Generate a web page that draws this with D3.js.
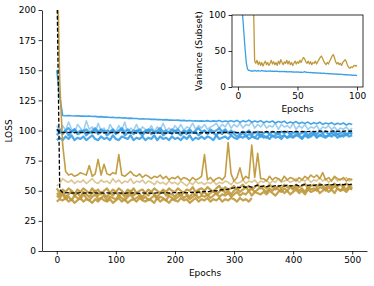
<!DOCTYPE html>
<html>
<head>
<meta charset="utf-8">
<script src="https://cdn.jsdelivr.net/npm/d3@7"></script>
<style>
body { margin: 0; background: #fff; }
svg { display: block; font-family: "DejaVu Sans", sans-serif; }
</style>
</head>
<body>
<svg id="chart" width="374" height="286"></svg>
<script>
// one value every 5 epochs, epoch 0..500
const step = 5;

const blueRun1 = [
  150,128,112.5,112.3,112.5,112.2,112,112.2,111.9,112,
  111.8,112,111.6,111.7,111.3,111.5,111.1,111.2,110.8,111,
  110.6,110.8,110.4,110.5,110.1,110.3,109.9,110,109.6,109.8,
  109.5,109.6,109.2,109.4,109,109.1,108.8,109,108.6,108.7,
  108.5,108.6,108.2,108.4,108,108.3,107.9,108.1,107.8,108,
  107.7,108.2,107.4,108,107.6,108.3,107.3,107.9,107.5,108.1,
  107.2,108.4,106.8,108,107.2,108.6,106.9,107.8,107,108.2,
  106.5,107.6,106.8,107.9,106.2,107.4,106.6,107.8,105.9,107.1,
  106.3,107.4,105.6,106.8,105.9,107,105.3,106.5,105.6,106.9,
  105,106.2,105.4,106.5,104.8,106,105.1,106.2,104.6,105.8,
  104.9
];
const blueRun2 = [
  104,99,104,100,107,101,98,105,102,99,
  108,101,103,98,106,100,102,97,105,101,
  99,104,100,107,98,102,100,105,99,103,
  101,100,104,99,103,101,106,100,102,99,
  104,101,105,100,103,102,106,101,104,102,
  105,101,103,104,106,102,105,103,107,102,
  105,103,106,102,105,104,107,102,105,103,
  106,102,104,103,106,101,105,103,104,102,
  106,101,104,102,105,101,103,102,104,100,
  103,102,104,101,103,100,102,101,103,100,
  102
];
const blueRun3 = [
  96,99,97,100,96,99,101,97,98,100,
  96,99,98,101,97,99,100,96,98,100,
  97,99,101,96,98,99,97,100,98,96,
  99,101,97,99,98,100,96,98,99,97,
  100,98,96,99,97,100,98,99,96,98,
  100,97,99,98,96,99,97,100,98,97,
  99,98,97,99,98,100,97,98,99,96,
  98,99,97,99,98,97,99,98,99,97,
  98,99,97,98,99,96,98,99,97,99,
  98,99,97,98,99,97,98,99,97,98,
  98
];
const blueRun4 = [
  92,94,92,95,93,96,92,94,93,95,
  92,94,96,93,92,95,93,94,92,96,
  93,92,95,94,93,96,92,94,93,95,
  92,94,93,96,92,95,93,94,92,95,
  93,94,92,95,93,96,92,94,93,95,
  93,95,94,92,96,93,94,95,93,96,
  94,93,95,94,96,93,95,94,93,96,
  94,95,93,96,94,95,93,96,94,95,
  94,96,95,93,96,94,95,97,94,96,
  95,94,96,95,97,94,96,95,97,95,
  96
];
const blueRun5 = [
  99,101,98,100,102,99,101,98,100,99,
  101,98,100,102,99,101,98,100,99,101,
  98,100,102,99,101,98,100,99,101,98,
  100,99,101,98,100,102,99,100,98,101,
  99,101,98,100,99,101,98,100,102,99,
  100,98,101,99,100,102,99,101,98,100,
  97,95,96,98,95,97,96,94,97,95,
  96,94,97,95,96,98,95,96,94,97,
  95,97,96,94,97,95,96,98,95,96,
  97,95,96,98,96,97,95,97,96,98,
  97
];
const blueMean = [
  101,98.5,98.3,98.5,98.4,98.6,98.3,98.5,98.4,98.2,
  98.4,98.3,98.5,98.2,98.4,98.3,98.1,98.3,98.2,98.4,
  98.1,98.3,98.2,98,98.2,98.1,98.3,97.9,98.1,98,
  98.2,97.9,98.1,97.8,98,97.9,98.1,97.8,98,97.9,
  97.8,98,97.9,98.1,97.8,98,98.1,97.9,98.2,98,
  98.1,98.3,98,98.2,98.4,98.1,98.3,98.5,98.2,98.4,
  98.6,98.3,98.5,98.7,98.4,98.8,98.5,98.7,98.9,98.6,
  98.8,99,98.7,98.9,99.1,98.8,99,99.2,98.9,99.1,
  99,99.2,98.9,99.3,99.1,99,99.4,99.1,99.3,99.6,
  99.2,99.5,99.1,99.4,99.6,99.2,99.5,99.3,99.7,99.4,
  99.6
];

const goldRun1 = [
  260,140,88,66,63,64,62,63,65,64,
  63,71,62,64,76,63,72,64,63,65,
  64,80,63,62,64,66,63,62,64,61,
  63,62,60,62,61,63,60,62,59,61,
  60,62,59,61,60,58,61,59,60,62,
  80,59,61,58,60,61,59,62,90,64,
  58,61,69,59,62,60,88,61,81,60,
  60,58,62,59,61,60,58,62,59,61,
  60,58,61,59,62,60,63,61,63,60,
  65,59,61,58,62,60,59,61,58,60,
  59
];
const goldRun2 = [
  54,56,60,58,57,59,56,58,57,59,
  56,58,60,57,56,59,57,58,56,60,
  57,59,56,58,57,60,56,58,57,59,
  56,58,57,55,58,56,57,55,58,56,
  57,55,58,56,54,57,55,58,56,57,
  55,57,56,58,55,57,56,58,57,55,
  58,56,57,59,56,58,57,59,56,58,
  57,59,56,58,57,60,57,58,59,57,
  58,60,57,59,58,60,57,59,58,61,
  58,60,57,59,61,58,60,59,61,58,
  60
];
const goldRun3 = [
  52,48,51,49,52,50,47,51,49,52,
  50,48,52,49,51,47,50,52,48,51,
  49,52,50,47,51,49,52,48,50,51,
  48,51,49,52,50,48,51,49,52,50,
  49,52,50,48,51,50,53,49,51,52,
  50,53,51,49,52,54,50,53,51,52,
  54,51,53,55,52,54,51,53,55,52,
  54,52,55,53,51,54,52,55,53,54,
  52,55,53,54,56,52,54,55,53,56,
  54,52,55,53,56,54,55,53,56,54,
  55
];
const goldRun4 = [
  46,44,47,43,45,42,46,44,43,47,
  44,42,45,47,43,44,46,42,45,44,
  43,46,44,42,45,47,43,44,46,43,
  45,42,44,46,43,45,44,42,46,44,
  43,45,47,44,46,43,45,47,44,46,
  45,47,44,46,48,45,47,46,48,45,
  47,49,46,48,47,50,46,49,48,47,
  49,47,50,48,46,49,51,48,50,47,
  49,51,48,50,47,51,49,50,52,48,
  50,52,49,51,48,52,50,51,49,52,
  51
];
// this run stops at epoch 330
const goldRun5 = [
  41,43,42,44,41,43,40,42,44,41,
  43,42,40,43,41,44,42,41,43,40,
  42,44,41,43,40,42,43,41,44,42,
  41,43,42,40,44,41,43,42,40,43,
  42,41,44,42,43,40,42,44,41,43,
  42,44,41,43,42,44,41,43,42,44,
  43,41,44,42,43,41,44
];
const goldRun6 = [
  48,46,49,45,47,50,46,48,45,49,
  47,45,48,50,46,49,47,45,48,46,
  49,46,48,45,47,50,46,48,47,45,
  48,46,49,47,45,48,50,46,48,47,
  45,48,46,49,47,45,48,46,50,47,
  49,46,48,50,47,49,52,48,50,47,
  50,52,49,51,53,50,52,49,51,53,
  51,49,52,50,53,51,49,52,50,53,
  51,53,50,52,49,53,51,52,50,53,
  52,50,53,51,54,52,50,53,51,54,
  52
];
const goldMean = [
  230,51,48.5,48.2,48.4,48,48.3,48.1,48.4,48,
  48.2,48.4,48,48.3,48.1,48.2,48,48.3,48.1,48.2,
  48,48.3,48.1,47.9,48.2,48,48.3,48.1,47.9,48.2,
  48,48.2,47.9,48.1,48.3,48,48.2,48.4,48.1,48.3,
  48.5,48.2,48.4,48.7,48.3,48.6,48.9,48.5,48.8,49.1,
  49.4,49,49.6,50.2,49.8,50.5,51,50.6,51.4,52,
  52.4,53,52.6,53.4,52.9,53.6,53.1,53.8,54.6,53.7,
  53.9,53.4,54.1,53.6,54.3,53.8,54.5,53.9,54.6,54.1,
  54.3,54.8,54.1,54.6,55,54.4,54.9,54.3,55.1,54.6,
  55.2,54.7,55.3,54.9,55.5,54.8,55.4,55,55.6,55.1,
  55.5
];

// inset: one value per epoch, 0..100
const insetBlue = [
  180,160,140,118,98,75,52,34,25,23,
  23,22,22.5,22,23,22.5,22,22.8,22.3,22,
  23,22.5,22,22.4,21.8,22.2,21.9,22.3,21.7,22,
  21.8,22.2,21.6,21.9,21.5,21.8,21.4,21.7,21.3,21.6,
  21.2,21.5,21,21.4,20.9,21.2,20.8,21.1,20.7,21,
  20.6,20.9,20.4,20.8,20.3,20.6,21.4,20.5,20.2,20.4,
  20,20.3,19.8,20.1,19.6,19.9,19.4,19.7,19.2,19.5,
  19,19.3,18.8,19.1,18.6,18.9,18.4,18.7,18.2,18.5,
  18,18.3,17.8,18.1,17.6,17.9,17.4,17.7,17.2,17.5,
  17,17.2,16.7,17,16.4,16.7,16.2,16.5,16,16.3,
  15.9
];
const insetGold = [
  250,250,250,250,250,250,250,250,250,250,
  250,250,250,120,36,33,37,31,35,30,
  34,29,33,36,31,34,30,33,37,32,
  35,31,34,30,36,32,38,34,31,35,
  33,37,32,36,31,34,30,33,36,32,
  35,33,37,34,38,41,39,35,33,36,
  32,35,31,34,33,36,32,35,38,41,
  43,40,36,33,31,34,32,36,39,43,
  45,41,35,32,34,31,33,30,34,36,
  38,35,30,27,26,28,27,29,30,29,
  30
];

const xTicks = [0, 100, 200, 300, 400, 500];
const yTicks = [0, 25, 50, 75, 100, 125, 150, 175, 200];
const insetTicks = [0, 50, 100];

const blue = '#3b9fe4';
const gold = '#bf983a';

const svg = d3.select('#chart');

// ---- main axes
const x = d3.scaleLinear().domain([-25, 525]).range([42, 367]);
const y = d3.scaleLinear().domain([0, 200]).range([251, 10]);

svg.append('clipPath').attr('id', 'clipMain')
    .append('rect')
    .attr('x', 42).attr('y', 10)
    .attr('width', 325).attr('height', 241);

const mainLine = d3.line()
    .x((d, i) => x(i * step))
    .y(d => y(d));

const plot = svg.append('g').attr('clip-path', 'url(#clipMain)');

function drawRun(g, data, color, width, opacity, gen) {
    g.append('path')
        .datum(data)
        .attr('fill', 'none')
        .attr('stroke', color)
        .attr('stroke-width', width)
        .attr('stroke-opacity', opacity)
        .attr('stroke-linejoin', 'round')
        .attr('d', gen);
}

drawRun(plot, blueRun4, blue, 2.2, 0.9, mainLine);
drawRun(plot, blueRun3, blue, 2.2, 0.9, mainLine);
drawRun(plot, blueRun5, blue, 2.2, 0.85, mainLine);
drawRun(plot, blueRun2, blue, 1.6, 0.5, mainLine);
drawRun(plot, blueRun1, blue, 1.6, 0.95, mainLine);

drawRun(plot, goldRun5, gold, 2.2, 0.9, mainLine);
drawRun(plot, goldRun4, gold, 2.2, 0.9, mainLine);
drawRun(plot, goldRun6, gold, 2.2, 0.9, mainLine);
drawRun(plot, goldRun3, gold, 2.2, 0.9, mainLine);
drawRun(plot, goldRun2, gold, 1.6, 0.55, mainLine);
drawRun(plot, goldRun1, gold, 1.6, 0.95, mainLine);

[blueMean, goldMean].forEach(m => {
    plot.append('path')
        .datum(m)
        .attr('fill', 'none')
        .attr('stroke', '#000')
        .attr('stroke-width', 1.3)
        .attr('stroke-dasharray', '4,2')
        .attr('d', mainLine);
});

const xAxis = svg.append('g')
    .attr('transform', 'translate(0,251)')
    .call(d3.axisBottom(x).tickValues(xTicks).tickSize(3.5).tickSizeOuter(0).tickPadding(2.5));
const yAxis = svg.append('g')
    .attr('transform', 'translate(42,0)')
    .call(d3.axisLeft(y).tickValues(yTicks).tickSize(3.5).tickSizeOuter(0).tickPadding(2.5));

[xAxis, yAxis].forEach(a => {
    a.attr('font-family', '"DejaVu Sans", sans-serif').attr('font-size', 9);
    a.select('.domain').attr('stroke', '#000').attr('stroke-width', 0.8);
    a.selectAll('.tick line').attr('stroke', '#000').attr('stroke-width', 0.8);
    a.selectAll('.tick text').attr('fill', '#000');
});

svg.append('text')
    .attr('x', 205).attr('y', 276)
    .attr('text-anchor', 'middle')
    .attr('font-size', 9)
    .text('Epochs');
svg.append('text')
    .attr('transform', 'translate(12,131) rotate(-90)')
    .attr('text-anchor', 'middle')
    .attr('font-size', 9)
    .text('LOSS');

// ---- inset
const xi = d3.scaleLinear().domain([-5, 105]).range([232, 363]);
const yi = d3.scaleLinear().domain([0, 100]).range([87, 15]);

svg.append('rect')
    .attr('x', 232).attr('y', 15)
    .attr('width', 131).attr('height', 72)
    .attr('fill', '#fff');

svg.append('clipPath').attr('id', 'clipInset')
    .append('rect')
    .attr('x', 232).attr('y', 15)
    .attr('width', 131).attr('height', 72);

const insetLine = d3.line()
    .x((d, i) => xi(i))
    .y(d => yi(d));

const inset = svg.append('g').attr('clip-path', 'url(#clipInset)');
drawRun(inset, insetBlue, blue, 1.3, 1, insetLine);
drawRun(inset, insetGold, gold, 1.3, 1, insetLine);

svg.append('rect')
    .attr('x', 232).attr('y', 15)
    .attr('width', 131).attr('height', 72)
    .attr('fill', 'none')
    .attr('stroke', '#000')
    .attr('stroke-width', 0.8);

const xiAxis = svg.append('g')
    .attr('transform', 'translate(0,87)')
    .call(d3.axisBottom(xi).tickValues(insetTicks).tickSize(3.5).tickSizeOuter(0).tickPadding(2.5));
const yiAxis = svg.append('g')
    .attr('transform', 'translate(232,0)')
    .call(d3.axisLeft(yi).tickValues(insetTicks).tickSize(3.5).tickSizeOuter(0).tickPadding(2.5));

[xiAxis, yiAxis].forEach(a => {
    a.attr('font-family', '"DejaVu Sans", sans-serif').attr('font-size', 9);
    a.select('.domain').remove();
    a.selectAll('.tick line').attr('stroke', '#000').attr('stroke-width', 0.8);
    a.selectAll('.tick text').attr('fill', '#000');
});

svg.append('text')
    .attr('x', 297.5).attr('y', 112)
    .attr('text-anchor', 'middle')
    .attr('font-size', 9)
    .text('Epochs');
svg.append('text')
    .attr('transform', 'translate(202,51) rotate(-90)')
    .attr('text-anchor', 'middle')
    .attr('font-size', 9)
    .text('Variance (Subset)');
</script>
</body>
</html>
